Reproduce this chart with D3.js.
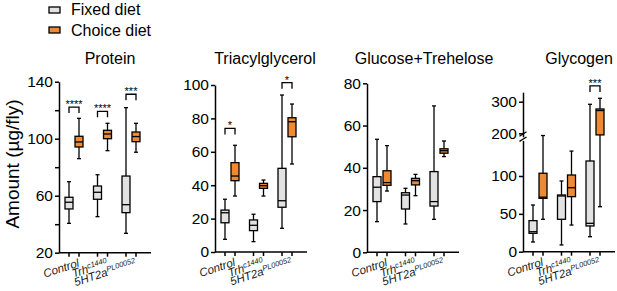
<!DOCTYPE html>
<html>
<head>
<meta charset="utf-8">
<script src="https://cdn.jsdelivr.net/npm/d3@7"></script>
<style>
  body { margin: 0; background: white; }
  svg { display: block; font-family: Arial, "Liberation Sans", sans-serif; }
</style>
</head>
<body>
<div id="chart"></div>
<script>
// categories
let groups = ["Control", "Trh", "5HT2a"];
let groupSups = ["", "c1440", "PL00052"];
let diets = ["Fixed diet", "Choice diet"];
let panelNames = ["Protein", "Triacylglycerol", "Glucose+Trehelose", "Glycogen"];

// box values per group: [min, q1, median, q3, max]
let proteinFixed = [[40.6, 50.7, 55.4, 58.9, 69.8], [45.3, 57.5, 62.4, 66.8, 74.7], [33.6, 48.1, 53.7, 73.8, 121.8]];
let proteinChoice = [[86, 94.2, 97.7, 101.7, 114.3], [91.6, 100, 103.3, 105.9, 110.8], [90.5, 97.9, 101.5, 104.7, 110.8]];
let tagFixed = [[7.6, 17.5, 23.5, 25.1, 31.6], [6.2, 12.8, 16, 19.2, 22.6], [14.2, 26.8, 30.7, 50.1, 94]];
let tagChoice = [[33.5, 42.7, 45.5, 53.5, 63.9], [33.5, 38.1, 39.7, 41.1, 43.1], [52.7, 69, 78, 80.4, 88.6]];
let sugarFixed = [[14.5, 24, 30.8, 35.8, 53.5], [13.4, 20.5, 27.1, 28.2, 30.3], [15.6, 21.9, 24, 38.2, 69.3]];
let sugarChoice = [[29, 31.7, 33, 38.6, 50.5], [26.8, 31.9, 33.9, 35, 36.9], [45.3, 46.9, 48.1, 49, 52.7]];
let glycogenFixed = [[12.8, 24.3, 26.4, 41, 61.7], [8.9, 42.8, 73.6, 74.9, 93.4], [19.8, 34, 37.5, 119.8, 291.8]];
let glycogenChoice = [[42.8, 70.5, 72, 103.6, 193], [35.2, 72.7, 84.5, 101.3, 132.9], [59.4, 195, 272, 276.9, 310.8]];

// significance brackets: [group index, value height, label]
let proteinStars = [[0, 122.2, "****"], [1, 119.2, "****"], [2, 131.2, "***"]];
let tagStars = [[0, 74, "*"], [2, 101.4, "*"]];
let sugarStars = [];
let glycogenStars = [[2, 349.7, "***"]];

// tick values
let proteinTicks = [20, 40, 60, 80, 100, 120, 140];
let proteinLabels = [20, 60, 100, 140];
let tagTicks = [0, 20, 40, 60, 80, 100];
let sugarTicks = [0, 20, 40, 60, 80];
let glycogenLowTicks = [0, 50, 100];
let glycogenHighTicks = [200, 300];

let w = 617, h = 291;
let orange = "#ef8a32";
let gray = "#e2e2e2";

let svg = d3.select("#chart").append("svg")
    .attr("width", w)
    .attr("height", h);

// glycogen has a broken axis: two linear pieces
let glyLower = d3.scaleLinear().domain([0, 147]).range([251.7, 140.4]);
let glyUpper = d3.scaleLinear().domain([189, 330]).range([136.8, 92.2]);
let glyY = d3.scaleLinear()
    .domain([0, 147, 189, 360])
    .range([glyLower(0), glyLower(147), glyUpper(189), glyUpper(360)]);

let panels = [
  { name: panelNames[0], fixed: proteinFixed, choice: proteinChoice, stars: proteinStars,
    ax: 59, titleX: 110, y: d3.scaleLinear().domain([20, 140]).range([252.7, 81.7]),
    ticks: proteinTicks, labels: proteinLabels },
  { name: panelNames[1], fixed: tagFixed, choice: tagChoice, stars: tagStars,
    ax: 215, titleX: 265, y: d3.scaleLinear().domain([0, 100]).range([252, 85]),
    ticks: tagTicks, labels: tagTicks },
  { name: panelNames[2], fixed: sugarFixed, choice: sugarChoice, stars: sugarStars,
    ax: 367, titleX: 424, y: d3.scaleLinear().domain([0, 80]).range([252.3, 83.3]),
    ticks: sugarTicks, labels: sugarTicks },
  { name: panelNames[3], fixed: glycogenFixed, choice: glycogenChoice, stars: glycogenStars,
    ax: 523, titleX: 579, y: glyY, broken: true }
];

let gx = d3.scalePoint().domain(groups).range([15, 72]);
let dx = d3.scaleBand().domain(diets).range([-10, 10]);
let boxW = 8, capW = 4;

function xPos(p, gi, diet){
  return p.ax + gx(groups[gi]) + dx(diet) + dx.bandwidth() / 2;
}

function styleAxis(g){
  g.select(".domain").attr("stroke", "black").attr("stroke-width", 1.5);
  g.selectAll(".tick line").attr("stroke", "black").attr("stroke-width", 1.5);
  g.selectAll(".tick text").attr("font-size", "15.5px").attr("fill", "black")
    .attr("font-family", "Arial, 'Liberation Sans', sans-serif");
}

panels.forEach(function(p){
  let g = svg.append("g");
  let bottom = p.broken ? glyLower(0) : p.y.range()[0];

  // y axis
  if(p.broken){
    let lowAxis = g.append("g").attr("transform", "translate(" + p.ax + ",0)")
      .call(d3.axisLeft(glyLower).tickValues(glycogenLowTicks).tickSize(4).tickSizeOuter(0).tickPadding(2));
    styleAxis(lowAxis);
    let highAxis = g.append("g").attr("transform", "translate(" + p.ax + ",0)")
      .call(d3.axisLeft(glyUpper).tickValues(glycogenHighTicks).tickSize(4).tickSizeOuter(0).tickPadding(2));
    styleAxis(highAxis);
    // break marks
    [134, 139.2].forEach(function(yc){
      g.append("line")
        .attr("x1", p.ax - 3.5).attr("y1", yc + 2.2)
        .attr("x2", p.ax + 3.5).attr("y2", yc - 2.2)
        .attr("stroke", "black").attr("stroke-width", 1.3);
    });
  } else {
    let yAxis = g.append("g").attr("transform", "translate(" + p.ax + ",0)")
      .call(d3.axisLeft(p.y).tickValues(p.ticks).tickSize(4).tickSizeOuter(0).tickPadding(2)
        .tickFormat(function(d){ return p.labels.includes(d) ? d : ""; }));
    styleAxis(yAxis);
  }

  // x axis line with ticks at each box
  g.append("line")
    .attr("x1", p.ax).attr("x2", p.ax + 92)
    .attr("y1", bottom).attr("y2", bottom)
    .attr("stroke", "black").attr("stroke-width", 1.5);
  groups.forEach(function(grp, gi){
    diets.forEach(function(diet){
      let x = xPos(p, gi, diet);
      g.append("line")
        .attr("x1", x).attr("x2", x)
        .attr("y1", bottom).attr("y2", bottom + 4)
        .attr("stroke", "black").attr("stroke-width", 1.5);
    });

    // category label
    let gxPos = p.ax + gx(grp) + 6;
    let label = g.append("text")
      .attr("transform", "translate(" + gxPos + "," + (bottom + 13.5) + ") rotate(-18)")
      .attr("text-anchor", "end")
      .attr("font-size", "11.5px")
      .attr("font-style", "italic")
      .attr("fill", "#1a1a1a");
    label.append("tspan").text(grp);
    if(groupSups[gi] != ""){
      label.append("tspan").attr("dy", -4).attr("font-size", "7.5px").text(groupSups[gi]);
    }
  });

  // boxes
  groups.forEach(function(grp, gi){
    [[diets[0], p.fixed[gi], gray], [diets[1], p.choice[gi], orange]].forEach(function(b){
      let x = xPos(p, gi, b[0]);
      let v = b[1];
      g.append("line")
        .attr("x1", x).attr("x2", x)
        .attr("y1", p.y(v[0])).attr("y2", p.y(v[4]))
        .attr("stroke", "black").attr("stroke-width", 1.3);
      [v[0], v[4]].forEach(function(c){
        g.append("line")
          .attr("x1", x - capW / 2).attr("x2", x + capW / 2)
          .attr("y1", p.y(c)).attr("y2", p.y(c))
          .attr("stroke", "black").attr("stroke-width", 1.3);
      });
      g.append("rect")
        .attr("x", x - boxW / 2)
        .attr("y", p.y(v[3]))
        .attr("width", boxW)
        .attr("height", p.y(v[1]) - p.y(v[3]))
        .attr("fill", b[2])
        .attr("stroke", "black").attr("stroke-width", 1.3);
      g.append("line")
        .attr("x1", x - boxW / 2).attr("x2", x + boxW / 2)
        .attr("y1", p.y(v[2])).attr("y2", p.y(v[2]))
        .attr("stroke", "black").attr("stroke-width", 1.3);
    });
  });

  // significance brackets
  p.stars.forEach(function(s){
    let x1 = xPos(p, s[0], diets[0]);
    let x2 = xPos(p, s[0], diets[1]);
    let yb = p.y(s[1]);
    g.append("path")
      .attr("d", "M" + x1 + "," + (yb + 6) + "V" + yb + "H" + x2 + "V" + (yb + 6))
      .attr("fill", "none").attr("stroke", "black").attr("stroke-width", 1.3);
    g.append("text")
      .attr("x", (x1 + x2) / 2).attr("y", yb + 1)
      .attr("text-anchor", "middle")
      .attr("font-size", "11px")
      .attr("fill", "black")
      .text(s[2]);
  });

  // title
  g.append("text")
    .attr("x", p.titleX).attr("y", 64)
    .attr("text-anchor", "middle")
    .attr("font-size", "16px")
    .text(p.name);
});

// y axis title
svg.append("text")
  .attr("transform", "translate(18.5,164) rotate(-90)")
  .attr("text-anchor", "middle")
  .attr("font-size", "19px")
  .text("Amount (µg/fly)");

// legend
let legend = svg.append("g");
diets.forEach(function(d, i){
  legend.append("rect")
    .attr("x", 49).attr("y", 7 + i * 20)
    .attr("width", 11).attr("height", 6)
    .attr("fill", i == 0 ? gray : orange)
    .attr("stroke", "black").attr("stroke-width", 1.3);
  legend.append("text")
    .attr("x", 71).attr("y", 15 + i * 20.5)
    .attr("font-size", "16px")
    .text(d);
});
</script>
</body>
</html>
